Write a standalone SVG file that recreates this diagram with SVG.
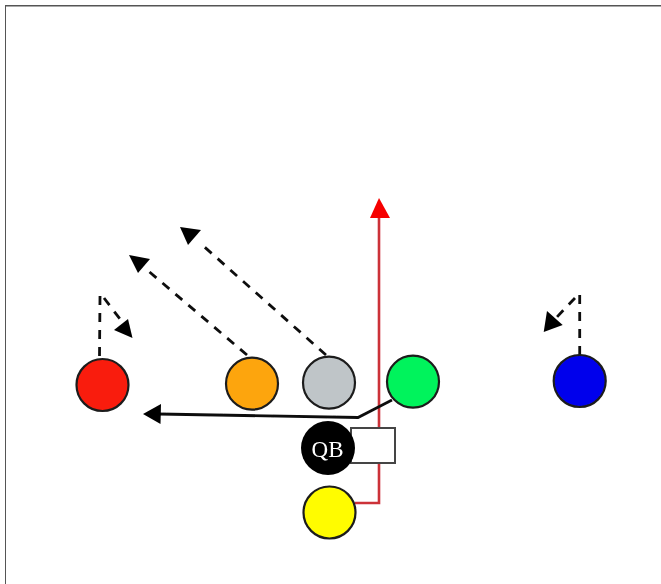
<svg xmlns="http://www.w3.org/2000/svg" width="661" height="584" viewBox="0 0 661 584">
<style>
.p{stroke:#1c1c1c;stroke-width:2.200}
.d{fill:none;stroke:#111;stroke-width:2.800;stroke-dasharray:9 8}
.h{fill:#000}
text{font-family:"Liberation Serif","Times New Roman",serif;font-size:23px;fill:#fff;text-anchor:middle}
</style>
<defs><filter id="soft" x="0" y="0" width="100%" height="100%"><feGaussianBlur stdDeviation="0.5"/></filter></defs>
<rect width="661" height="584" fill="#fff"/>
<g filter="url(#soft)">
<path id="frame" d="M5 584V5.500H661" fill="none" stroke="#555" stroke-width="2"/>
<g id="connectors">
<path id="route-yellow" d="M355 503H379V216" fill="none" stroke="#cc3038" stroke-width="2.600"/>
<polygon points="379,198 390,218 370,218" fill="#f60000"/>
<path id="route-green" d="M392 400L358 417.500L158 414" fill="none" stroke="#111" stroke-width="2.800"/>
<polygon class="h" points="143,414 161,404 160.500,424"/>
<path class="d" d="M99.500 356L100 295"/>
<path class="d" d="M104 298L123 323"/>
<polygon class="h" points="132.500,338 114,330 128,319"/>
<path class="d" d="M247 355L146 269"/>
<polygon class="h" points="129,255 150,259 138,273"/>
<path class="d" d="M326 355L200 243"/>
<polygon class="h" points="180,227 201,230 188,245"/>
<path class="d" d="M579.700 355V294"/>
<path class="d" d="M575 298L556 318"/>
<polygon class="h" points="543.700,332 547,311 562.700,325"/>
</g>
<g id="node-red"><circle class="p" cx="102.500" cy="385" r="26" fill="#f91b0e"/></g>
<g id="node-orange"><circle class="p" cx="252" cy="383.700" r="26" fill="#fda50f"/></g>
<g id="node-grey"><circle class="p" cx="329" cy="382.700" r="26" fill="#bfc5c8"/></g>
<g id="node-green"><circle class="p" cx="413" cy="381.700" r="26" fill="#05f35b"/></g>
<g id="node-blue"><circle class="p" cx="579.700" cy="381" r="26" fill="#0404ec"/></g>
<g id="node-center"><rect x="351" y="428" width="44" height="35" fill="#fff" stroke="#444" stroke-width="2"/></g>
<g id="node-qb"><circle cx="328" cy="448" r="27" fill="#000"/><text x="327.500" y="456.500">QB</text></g>
<g id="node-yellow"><circle class="p" cx="329.500" cy="512.500" r="26" fill="#fffc00"/></g>
</g>
</svg>
